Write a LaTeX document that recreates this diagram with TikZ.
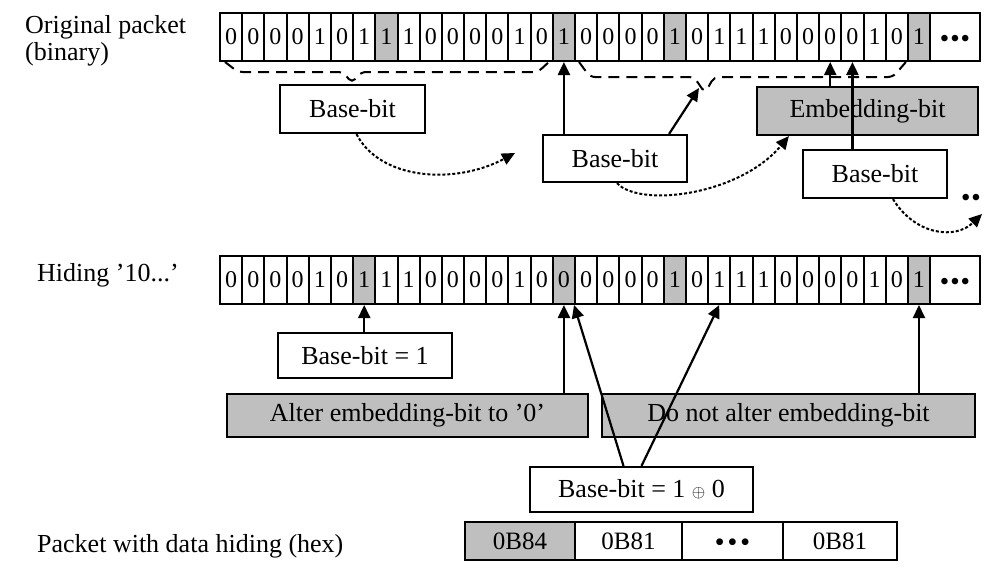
\documentclass[tikz,border=0pt]{standalone}
\usepackage{fontspec}
\setmainfont{Liberation Serif}
\usetikzlibrary{arrows.meta}

\newcommand{\bitdots}[1]{\smash{\raisebox{-9pt}{\bfseries\textbullet\hspace{#1}\textbullet\hspace{#1}\textbullet}}}

\begin{document}
\begin{tikzpicture}[
        x=1pt, y=-1pt,
        font=\fontsize{26}{27}\selectfont,
        nb/.style={rectangle, draw, line width=2pt, inner sep=0pt, minimum width=22.19pt, minimum height=48pt, font=\fontsize{24}{24}\selectfont},
        gb/.style={nb, fill=gray!50},
        box/.style={rectangle, draw, line width=2.2pt, inner sep=0pt, minimum height=47pt},
        gbox/.style={box, fill=gray!50},
        hexcell/.style={rectangle, draw, line width=2.2pt, inner sep=0pt, minimum height=38pt, font=\fontsize{25}{25}\selectfont},
        arr/.style={-{Triangle[length=13pt,width=12pt]}, line width=2.2pt},
        darr/.style={-{Triangle[length=13pt,width=12pt]}, line width=2pt, dash pattern=on 3pt off 2pt},
        brace/.style={line width=2pt, dash pattern=on 11pt off 7pt, rounded corners=5pt}
    ]
        \useasboundingbox (0,0) rectangle (983,566);

        % Labels
        \node[anchor=north west, align=left, inner sep=0pt] (orig) at (25,15) {Original packet\\(binary)};
        \node[anchor=base west, inner sep=0pt] (hide) at (37,281) {Hiding '10...'};
        \node[anchor=base west, inner sep=0pt] (hexlabel) at (37,552) {Packet with data hiding (hex)};

        % Original packet
        \foreach \b/\s [count=\i from 0] in {0/nb,0/nb,0/nb,0/nb,1/nb,0/nb,1/nb,1/gb,1/nb,0/nb,0/nb,0/nb,0/nb,1/nb,0/nb,1/gb,0/nb,0/nb,0/nb,0/nb,1/gb,0/nb,1/nb,1/nb,1/nb,0/nb,0/nb,0/nb,0/nb,1/nb,0/nb,1/gb}
            \node[\s] (t\i) at ({220+22.19*(\i+0.5)},37) {\b};
        \node[nb, minimum width=50pt] (tdots) at (955,37) {\bitdots{2pt}};

        % Hiding row
        \foreach \b/\s [count=\i from 0] in {0/nb,0/nb,0/nb,0/nb,1/nb,0/nb,1/gb,1/nb,1/nb,0/nb,0/nb,0/nb,0/nb,1/nb,0/nb,0/gb,0/nb,0/nb,0/nb,0/nb,1/gb,0/nb,1/nb,1/nb,1/nb,0/nb,0/nb,0/nb,0/nb,1/nb,0/nb,1/gb}
            \node[\s] (m\i) at ({220+22.19*(\i+0.5)},280) {\b};
        \node[nb, minimum width=50pt] (mdots) at (955,280) {\bitdots{2pt}};

        % Base-bit / embedding-bit boxes
        \node[box, minimum width=145pt, minimum height=48pt] (base1) at (352.5,109) {Base-bit};
        \node[box, minimum width=144pt] (base2) at (615,158.5) {Base-bit};
        \node[gbox, minimum width=221pt, minimum height=48pt] (embed) at (867.5,111) {Embedding-bit};
        \node[box, minimum width=144pt, minimum height=48pt] (base3) at (875,174) {Base-bit};
        \node[inner sep=0pt, font=\fontsize{24}{24}\selectfont\bfseries] (moredots) at (971,200) {\textbullet\hspace{2pt}\textbullet};

        % Hiding boxes
        \node[box, minimum width=174pt, minimum height=45pt] (baseone) at (365,355.5) {Base-bit = 1};
        \node[gbox, minimum width=361pt, minimum height=43pt] (alter) at (407.5,415.5) {Alter embedding-bit to '0'};
        \node[gbox, minimum width=373pt, minimum height=43pt] (keep) at (788.5,415.5) {Do not alter embedding-bit};
        \node[box, minimum width=223pt, minimum height=45pt] (xor) at (641.5,489.5) {Base-bit = 1 {\fontsize{16}{16}\selectfont$\oplus$} 0};

        % Packet with data hiding
        \node[hexcell, fill=gray!50, minimum width=110pt] (h1) at (520,541) {0B84};
        \node[hexcell, minimum width=107pt] (h2) at (628.5,541) {0B81};
        \node[hexcell, minimum width=101pt] (h3) at (732.5,541) {\bitdots{4pt}};
        \node[hexcell, minimum width=114pt] (h4) at (840,541) {0B81};

        % Dashed braces
        \draw[brace] ([xshift=6pt]t0.south west) -- (238,72) -- (343,72) -- (352,83) -- (361,72) -- (538,72) -- ([xshift=-3pt]t15.south west);
        \draw[brace] ([xshift=5pt]t16.south west) -- (590,77) -- (694,77) -- (705,93) -- (714,77) -- (893,77) -- ([xshift=-3pt]t30.south east);

        \coordinate (tipB) at (699,88);
        \coordinate (endA) at (515,153);
        \coordinate (endC) at (982,214);

        % Connessioni
        \draw[arr] (t15 |- base2.north) -- (t15.south);
        \draw[arr] ([xshift=-19pt]base2.north east) -- (tipB);
        \draw[arr] (t27 |- embed.north) -- (t27.south);
        \draw[arr] (t28 |- base3.north) -- (t28.south);

        % Dotted curves
        \draw[darr] ([xshift=4pt]base1.south) .. controls (380,180) and (455,185) .. (endA);
        \draw[darr] ([xshift=2pt]base2.south) .. controls (640,208) and (740,195) .. ([xshift=33pt]embed.south west);
        \draw[darr] ([xshift=18pt]base3.south) .. controls (915,235) and (955,240) .. (endC);

        % Hiding connections
        \draw[arr] (m6 |- baseone.north) -- (m6.south);
        \draw[arr] (m15 |- alter.north) -- (m15.south);
        \draw[arr] (m31 |- keep.north) -- (m31.south);
        \draw[arr] ([xshift=-18pt]xor.north) -- ([xshift=-2pt]m15.south east);
        \draw[arr] (xor.north) -- (m22.south);
    \end{tikzpicture}
\end{document}
